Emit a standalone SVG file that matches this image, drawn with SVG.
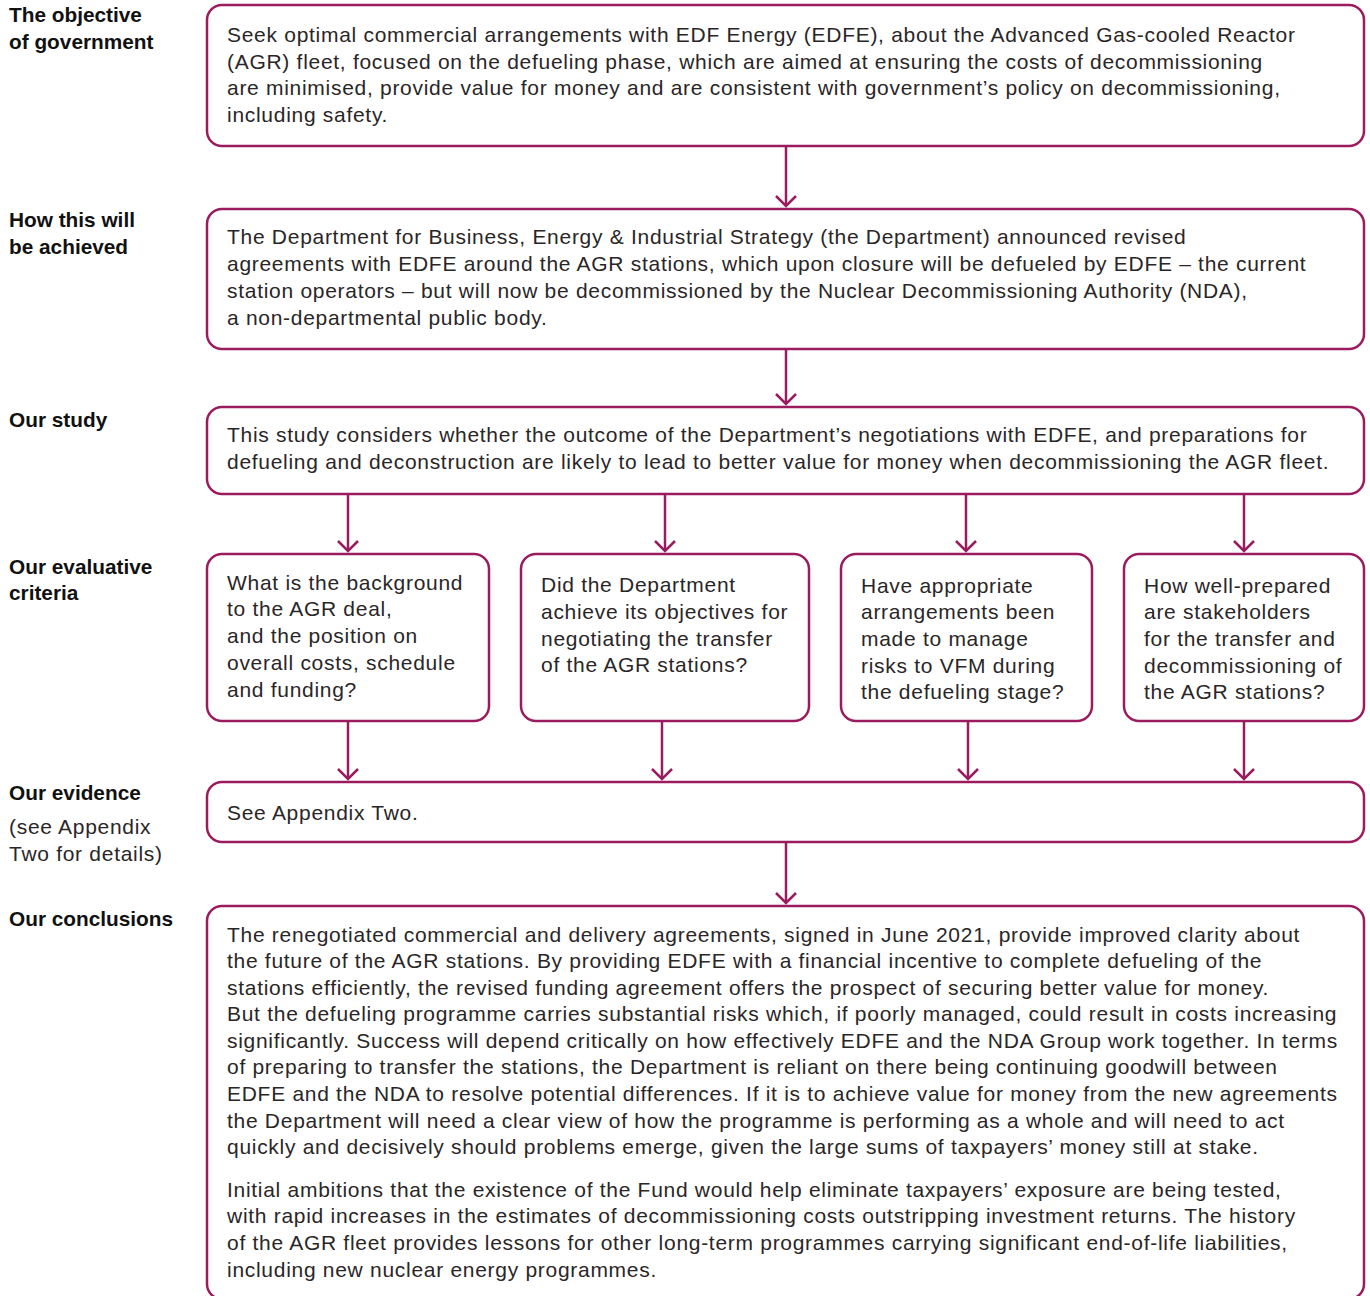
<svg xmlns="http://www.w3.org/2000/svg" width="1370" height="1296" viewBox="0 0 1370 1296">
<style>
.bx{fill:#fff;stroke:#9b1b5f;stroke-width:2.5}
.t{font-family:"Liberation Sans",Arial,sans-serif;font-size:21px;letter-spacing:0.71px;fill:#2a2627}
.l{font-family:"Liberation Sans",Arial,sans-serif;font-size:20.8px;font-weight:bold;fill:#111}
.c{fill:none;stroke:#9b1b5f;stroke-width:2.5}
</style>
<defs>
<marker id="ah" markerUnits="userSpaceOnUse" markerWidth="30" markerHeight="30" refX="15" refY="15" orient="auto" viewBox="0 0 30 30">
<path d="M5,5 L15,15 L5,25" fill="none" stroke="#9b1b5f" stroke-width="2.5"/>
</marker>
</defs>
<rect width="1370" height="1296" fill="#fff"/>
<g id="labels">
<text class="l" x="9" y="22">The objective</text>
<text class="l" x="9" y="49">of government</text>
<text class="l" x="9" y="227">How this will</text>
<text class="l" x="9" y="254">be achieved</text>
<text class="l" x="9" y="427">Our study</text>
<text class="l" x="9" y="574">Our evaluative</text>
<text class="l" x="9" y="600">criteria</text>
<text class="l" x="9" y="800">Our evidence</text>
<text class="t" x="9" y="834">(see Appendix</text>
<text class="t" x="9" y="861">Two for details)</text>
<text class="l" x="9" y="926">Our conclusions</text>
</g>
<g id="connectors">
<line class="c" x1="786" y1="146" x2="786" y2="206" marker-end="url(#ah)"/>
<line class="c" x1="786" y1="349" x2="786" y2="404" marker-end="url(#ah)"/>
<line class="c" x1="348" y1="494" x2="348" y2="551" marker-end="url(#ah)"/>
<line class="c" x1="665" y1="494" x2="665" y2="551" marker-end="url(#ah)"/>
<line class="c" x1="966" y1="494" x2="966" y2="551" marker-end="url(#ah)"/>
<line class="c" x1="1244" y1="494" x2="1244" y2="551" marker-end="url(#ah)"/>
<line class="c" x1="348" y1="721" x2="348" y2="779" marker-end="url(#ah)"/>
<line class="c" x1="662" y1="721" x2="662" y2="779" marker-end="url(#ah)"/>
<line class="c" x1="968" y1="721" x2="968" y2="779" marker-end="url(#ah)"/>
<line class="c" x1="1244" y1="721" x2="1244" y2="779" marker-end="url(#ah)"/>
<line class="c" x1="786" y1="842" x2="786" y2="903" marker-end="url(#ah)"/>
</g>
<g id="objective">
<rect class="bx" x="207" y="5" width="1157" height="141" rx="15"/>
<text class="t" x="227" y="42">Seek optimal commercial arrangements with EDF Energy (EDFE), about the Advanced Gas-cooled Reactor</text>
<text class="t" x="227" y="69">(AGR) fleet, focused on the defueling phase, which are aimed at ensuring the costs of decommissioning</text>
<text class="t" x="227" y="95">are minimised, provide value for money and are consistent with government’s policy on decommissioning,</text>
<text class="t" x="227" y="122">including safety.</text>
</g>
<g id="achieved">
<rect class="bx" x="207" y="209" width="1157" height="140" rx="15"/>
<text class="t" x="227" y="244">The Department for Business, Energy &amp; Industrial Strategy (the Department) announced revised</text>
<text class="t" x="227" y="271">agreements with EDFE around the AGR stations, which upon closure will be defueled by EDFE – the current</text>
<text class="t" x="227" y="298">station operators – but will now be decommissioned by the Nuclear Decommissioning Authority (NDA),</text>
<text class="t" x="227" y="325">a non-departmental public body.</text>
</g>
<g id="study">
<rect class="bx" x="207" y="407" width="1157" height="87" rx="15"/>
<text class="t" x="227" y="442">This study considers whether the outcome of the Department’s negotiations with EDFE, and preparations for</text>
<text class="t" x="227" y="469">defueling and deconstruction are likely to lead to better value for money when decommissioning the AGR fleet.</text>
</g>
<g id="criteria1">
<rect class="bx" x="207" y="554" width="282" height="167" rx="15"/>
<text class="t" x="227" y="590">What is the background</text>
<text class="t" x="227" y="616">to the AGR deal,</text>
<text class="t" x="227" y="643">and the position on</text>
<text class="t" x="227" y="670">overall costs, schedule</text>
<text class="t" x="227" y="697">and funding?</text>
</g>
<g id="criteria2">
<rect class="bx" x="521" y="554" width="288" height="167" rx="15"/>
<text class="t" x="541" y="592">Did the Department</text>
<text class="t" x="541" y="619">achieve its objectives for</text>
<text class="t" x="541" y="646">negotiating the transfer</text>
<text class="t" x="541" y="672">of the AGR stations?</text>
</g>
<g id="criteria3">
<rect class="bx" x="841" y="554" width="251" height="167" rx="15"/>
<text class="t" x="861" y="593">Have appropriate</text>
<text class="t" x="861" y="619">arrangements been</text>
<text class="t" x="861" y="646">made to manage</text>
<text class="t" x="861" y="673">risks to VFM during</text>
<text class="t" x="861" y="699">the defueling stage?</text>
</g>
<g id="criteria4">
<rect class="bx" x="1124" y="554" width="240" height="167" rx="15"/>
<text class="t" x="1144" y="593">How well-prepared</text>
<text class="t" x="1144" y="619">are stakeholders</text>
<text class="t" x="1144" y="646">for the transfer and</text>
<text class="t" x="1144" y="673">decommissioning of</text>
<text class="t" x="1144" y="699">the AGR stations?</text>
</g>
<g id="evidence">
<rect class="bx" x="207" y="782" width="1157" height="60" rx="15"/>
<text class="t" x="227" y="820">See Appendix Two.</text>
</g>
<g id="conclusions">
<rect class="bx" x="207" y="906" width="1157" height="393" rx="15"/>
<text class="t" x="227" y="942">The renegotiated commercial and delivery agreements, signed in June 2021, provide improved clarity about</text>
<text class="t" x="227" y="968">the future of the AGR stations. By providing EDFE with a financial incentive to complete defueling of the</text>
<text class="t" x="227" y="995">stations efficiently, the revised funding agreement offers the prospect of securing better value for money.</text>
<text class="t" x="227" y="1021">But the defueling programme carries substantial risks which, if poorly managed, could result in costs increasing</text>
<text class="t" x="227" y="1048">significantly. Success will depend critically on how effectively EDFE and the NDA Group work together. In terms</text>
<text class="t" x="227" y="1074">of preparing to transfer the stations, the Department is reliant on there being continuing goodwill between</text>
<text class="t" x="227" y="1101">EDFE and the NDA to resolve potential differences. If it is to achieve value for money from the new agreements</text>
<text class="t" x="227" y="1128">the Department will need a clear view of how the programme is performing as a whole and will need to act</text>
<text class="t" x="227" y="1154">quickly and decisively should problems emerge, given the large sums of taxpayers’ money still at stake.</text>
<text class="t" x="227" y="1197">Initial ambitions that the existence of the Fund would help eliminate taxpayers’ exposure are being tested,</text>
<text class="t" x="227" y="1223">with rapid increases in the estimates of decommissioning costs outstripping investment returns. The history</text>
<text class="t" x="227" y="1250">of the AGR fleet provides lessons for other long-term programmes carrying significant end-of-life liabilities,</text>
<text class="t" x="227" y="1277">including new nuclear energy programmes.</text>
</g>
</svg>
